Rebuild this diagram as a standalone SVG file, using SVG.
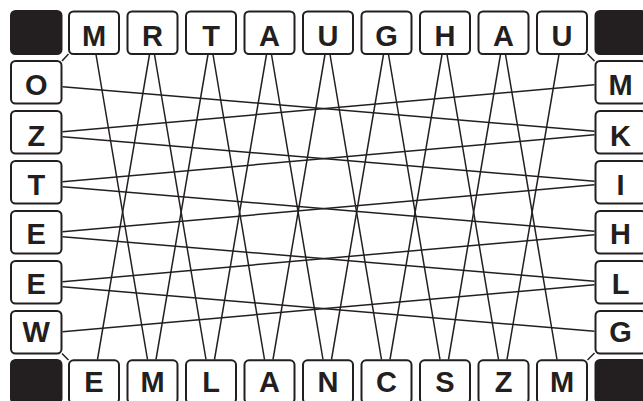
<svg xmlns="http://www.w3.org/2000/svg" width="643" height="401" viewBox="0 0 643 401">
<style>
.b{fill:#fff;stroke:#231f20;stroke-width:2}
.k{fill:#231f20;stroke:#231f20;stroke-width:2}
.t{font-family:"Liberation Sans",Arial,sans-serif;font-weight:bold;font-size:29px;fill:#231f20;text-anchor:middle}
.c line{stroke:#231f20;stroke-width:1.5;fill:none}
</style>
<rect width="643" height="401" fill="#fff"/>
<g id="connectors" class="c">
<line x1="96" y1="54.5" x2="147.5" y2="359.5"/>
<line x1="154.5" y1="54.5" x2="206" y2="359.5"/>
<line x1="213" y1="54.5" x2="264.5" y2="359.5"/>
<line x1="271.5" y1="54.5" x2="323" y2="359.5"/>
<line x1="330" y1="54.5" x2="381.5" y2="359.5"/>
<line x1="388.5" y1="54.5" x2="440" y2="359.5"/>
<line x1="447" y1="54.5" x2="498.5" y2="359.5"/>
<line x1="505.5" y1="54.5" x2="557" y2="359.5"/>
<line x1="149.5" y1="54.5" x2="97.5" y2="359.5"/>
<line x1="208" y1="54.5" x2="156" y2="359.5"/>
<line x1="266.5" y1="54.5" x2="214.5" y2="359.5"/>
<line x1="325" y1="54.5" x2="273" y2="359.5"/>
<line x1="383.5" y1="54.5" x2="331.5" y2="359.5"/>
<line x1="442" y1="54.5" x2="390" y2="359.5"/>
<line x1="500.5" y1="54.5" x2="448.5" y2="359.5"/>
<line x1="559" y1="54.5" x2="507" y2="359.5"/>
<line x1="62.5" y1="86.75" x2="594.5" y2="131.25"/>
<line x1="62.5" y1="136.75" x2="594.5" y2="181.25"/>
<line x1="62.5" y1="186.75" x2="594.5" y2="231.25"/>
<line x1="62.5" y1="236.75" x2="594.5" y2="281.25"/>
<line x1="62.5" y1="286.75" x2="594.5" y2="331.25"/>
<line x1="62.5" y1="131.75" x2="594.5" y2="84.75"/>
<line x1="62.5" y1="181.75" x2="594.5" y2="134.75"/>
<line x1="62.5" y1="231.75" x2="594.5" y2="184.75"/>
<line x1="62.5" y1="281.75" x2="594.5" y2="234.75"/>
<line x1="62.5" y1="331.75" x2="594.5" y2="284.75"/>
<line x1="62" y1="61" x2="68.5" y2="54"/>
<line x1="587.5" y1="54" x2="594.5" y2="61"/>
<line x1="62" y1="353.5" x2="68.5" y2="360"/>
<line x1="587.5" y1="360" x2="594.5" y2="353"/>
</g>
<g id="corner-tl"><rect class="k" x="11" y="11" width="50.5" height="43" rx="4.5"/></g>
<g id="corner-tr"><rect class="k" x="595.5" y="11" width="50.5" height="43" rx="4.5"/></g>
<g id="corner-bl"><rect class="k" x="11" y="360" width="50.5" height="43" rx="4.5"/></g>
<g id="corner-br"><rect class="k" x="595.5" y="360" width="50.5" height="43" rx="4.5"/></g>
<g id="top-1"><rect class="b" x="69" y="11.5" width="50" height="42.5" rx="4.5"/><text class="t" x="94" y="45.5">M</text></g>
<g id="top-2"><rect class="b" x="127.5" y="11.5" width="50" height="42.5" rx="4.5"/><text class="t" x="152.5" y="45.5">R</text></g>
<g id="top-3"><rect class="b" x="186" y="11.5" width="50" height="42.5" rx="4.5"/><text class="t" x="211" y="45.5">T</text></g>
<g id="top-4"><rect class="b" x="244.5" y="11.5" width="50" height="42.5" rx="4.5"/><text class="t" x="269.5" y="45.5">A</text></g>
<g id="top-5"><rect class="b" x="303" y="11.5" width="50" height="42.5" rx="4.5"/><text class="t" x="328" y="45.5">U</text></g>
<g id="top-6"><rect class="b" x="361.5" y="11.5" width="50" height="42.5" rx="4.5"/><text class="t" x="386.5" y="45.5">G</text></g>
<g id="top-7"><rect class="b" x="420" y="11.5" width="50" height="42.5" rx="4.5"/><text class="t" x="445" y="45.5">H</text></g>
<g id="top-8"><rect class="b" x="478.5" y="11.5" width="50" height="42.5" rx="4.5"/><text class="t" x="503.5" y="45.5">A</text></g>
<g id="top-9"><rect class="b" x="537" y="11.5" width="50" height="42.5" rx="4.5"/><text class="t" x="562" y="45.5">U</text></g>
<g id="bottom-1"><rect class="b" x="69" y="360.3" width="50" height="43" rx="4.5"/><text class="t" x="94" y="391.5">E</text></g>
<g id="bottom-2"><rect class="b" x="127.5" y="360.3" width="50" height="43" rx="4.5"/><text class="t" x="152.5" y="391.5">M</text></g>
<g id="bottom-3"><rect class="b" x="186" y="360.3" width="50" height="43" rx="4.5"/><text class="t" x="211" y="391.5">L</text></g>
<g id="bottom-4"><rect class="b" x="244.5" y="360.3" width="50" height="43" rx="4.5"/><text class="t" x="269.5" y="391.5">A</text></g>
<g id="bottom-5"><rect class="b" x="303" y="360.3" width="50" height="43" rx="4.5"/><text class="t" x="328" y="391.5">N</text></g>
<g id="bottom-6"><rect class="b" x="361.5" y="360.3" width="50" height="43" rx="4.5"/><text class="t" x="386.5" y="391.5">C</text></g>
<g id="bottom-7"><rect class="b" x="420" y="360.3" width="50" height="43" rx="4.5"/><text class="t" x="445" y="391.5">S</text></g>
<g id="bottom-8"><rect class="b" x="478.5" y="360.3" width="50" height="43" rx="4.5"/><text class="t" x="503.5" y="391.5">Z</text></g>
<g id="bottom-9"><rect class="b" x="537" y="360.3" width="50" height="43" rx="4.5"/><text class="t" x="562" y="391.5">M</text></g>
<g id="left-1"><rect class="b" x="11" y="61" width="50.5" height="42.5" rx="4.5"/><text class="t" x="36.25" y="95">O</text></g>
<g id="left-2"><rect class="b" x="11" y="111" width="50.5" height="42.5" rx="4.5"/><text class="t" x="36.25" y="145.5">Z</text></g>
<g id="left-3"><rect class="b" x="11" y="161" width="50.5" height="42.5" rx="4.5"/><text class="t" x="36.25" y="195">T</text></g>
<g id="left-4"><rect class="b" x="11" y="211" width="50.5" height="42.5" rx="4.5"/><text class="t" x="36.25" y="244">E</text></g>
<g id="left-5"><rect class="b" x="11" y="261" width="50.5" height="42.5" rx="4.5"/><text class="t" x="36.25" y="294">E</text></g>
<g id="left-6"><rect class="b" x="11" y="311" width="50.5" height="42.5" rx="4.5"/><text class="t" x="36.25" y="342">W</text></g>
<g id="right-1"><rect class="b" x="595.5" y="61" width="50.5" height="42.5" rx="4.5"/><text class="t" x="620.5" y="95">M</text></g>
<g id="right-2"><rect class="b" x="595.5" y="111" width="50.5" height="42.5" rx="4.5"/><text class="t" x="620.5" y="145.5">K</text></g>
<g id="right-3"><rect class="b" x="595.5" y="161" width="50.5" height="42.5" rx="4.5"/><text class="t" x="620.5" y="195">I</text></g>
<g id="right-4"><rect class="b" x="595.5" y="211" width="50.5" height="42.5" rx="4.5"/><text class="t" x="620.5" y="244">H</text></g>
<g id="right-5"><rect class="b" x="595.5" y="261" width="50.5" height="42.5" rx="4.5"/><text class="t" x="620.5" y="294">L</text></g>
<g id="right-6"><rect class="b" x="595.5" y="311" width="50.5" height="42.5" rx="4.5"/><text class="t" x="620.5" y="342">G</text></g>
</svg>
